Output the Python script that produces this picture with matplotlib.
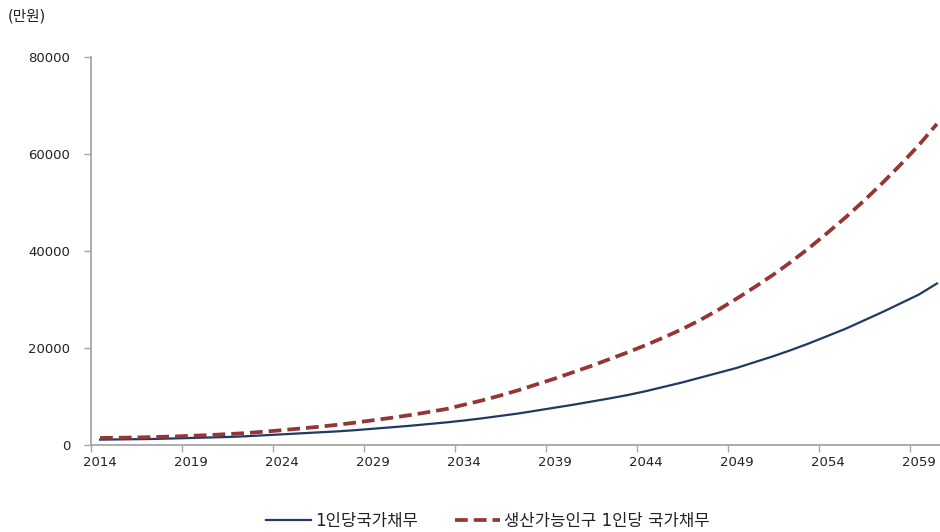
import matplotlib
matplotlib.use('Agg')
import matplotlib.pyplot as plt
from matplotlib.ticker import FixedLocator, NullFormatter, FixedFormatter

plt.rcParams['font.family'] = ['DejaVu Sans', 'Noto Sans CJK KR']

years = list(range(2014, 2061))

# 1인당 국가채무 (만원)
per_capita = [1100, 1150, 1200, 1250, 1350, 1450, 1550, 1650, 1800, 2000,
              2200, 2400, 2600, 2800, 3050, 3350, 3650, 3950, 4300, 4650,
              5050, 5500, 6000, 6500, 7100, 7700, 8300, 8950, 9600, 10300,
              11100, 12000, 12900, 13900, 14900, 15900, 17100, 18300, 19600, 21000,
              22500, 24000, 25700, 27400, 29200, 31000, 33300]

# 생산가능인구 1인당 국가채무 (만원)
per_working = [1450, 1500, 1550, 1650, 1750, 1900, 2050, 2250, 2450, 2750,
               3050, 3400, 3750, 4150, 4600, 5100, 5600, 6150, 6750, 7400,
               8300, 9200, 10200, 11300, 12500, 13700, 15000, 16300, 17700, 19100,
               20600, 22200, 23900, 25800, 27900, 30200, 32600, 35100, 37800, 40700,
               43800, 47000, 50400, 54000, 57800, 61800, 66200]

label_years = [2014, 2019, 2024, 2029, 2034, 2039, 2044, 2049, 2054, 2059]
yticks = [0, 20000, 40000, 60000, 80000]

fig = plt.figure(figsize=(9.4, 5.32), dpi=100)
W, H = 940, 532
ax = fig.add_axes([91 / W, 87 / H, 855 / W, 388 / H])

idx = list(range(len(years)))
ax.plot(idx, per_capita, color='#1F3A64', lw=1.6, label='1인당국가채무')
ax.plot(idx, per_working, color='#943634', lw=2.7, dashes=(3.4, 1.6),
        label='생산가능인구 1인당 국가채무')

ax.set_xlim(-0.5, len(years) - 0.5)
ax.set_ylim(0, 80000)

# category axis: ticks between categories, labels centred on them
ax.xaxis.set_major_locator(FixedLocator([i - 0.5 for i in range(0, len(years), 5)]))
ax.xaxis.set_major_formatter(NullFormatter())
ax.xaxis.set_minor_locator(FixedLocator([years.index(y) for y in label_years]))
ax.xaxis.set_minor_formatter(FixedFormatter([str(y) for y in label_years]))
ax.tick_params(axis='x', which='major', length=5, width=1, color='#A6A6A6', direction='out')
ax.tick_params(axis='x', which='minor', length=0, pad=8, labelsize=9.5, labelcolor='#222222')

ax.set_yticks(yticks)
ax.set_yticklabels([str(v) for v in yticks])
ax.tick_params(axis='y', length=5, width=1, color='#A6A6A6', pad=10,
               labelsize=9.5, labelcolor='#222222')

for s in ['top', 'right']:
    ax.spines[s].set_visible(False)
for s in ['left', 'bottom']:
    ax.spines[s].set_color('#A6A6A6')
    ax.spines[s].set_linewidth(1.3)

fig.text(8 / W, 1 - 16 / H, '(만원)', fontsize=10.5, color='#222222', va='center')

fig.legend(loc='center', bbox_to_anchor=(488 / W, 1 - 521 / H), ncol=2,
           frameon=False, fontsize=12, handlelength=2.7, columnspacing=2.2,
           handletextpad=0.25, labelcolor='#222222')

fig.savefig('out.png', dpi=100)
plt.close(fig)
